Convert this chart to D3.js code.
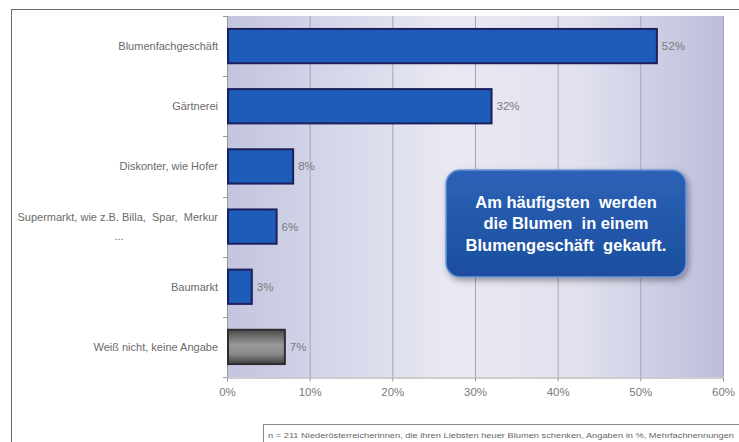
<!DOCTYPE html>
<html><head><meta charset="utf-8">
<script src="https://cdn.jsdelivr.net/npm/d3@7"></script>
<style>body{margin:0;background:#fff;}svg{display:block;font-family:Arial,"Liberation Sans",sans-serif;}</style>
</head><body>
<svg id="c" width="739" height="442"></svg>
<script>
const categories = ["Blumenfachgeschäft","Gärtnerei","Diskonter, wie Hofer","Supermarkt, wie z.B. Billa,  Spar,  Merkur|...","Baumarkt","Weiß nicht, keine Angabe"];
const values = [52, 32, 8, 6, 3, 7];
const highlightGray = [false,false,false,false,false,true];
const xTicks = [0,10,20,30,40,50,60];
const calloutLines = ["Am häufigsten  werden","die Blumen  in einem","Blumengeschäft  gekauft."];
const footnote = "n = 211 Niederösterreicherinnen, die ihren Liebsten heuer Blumen schenken, Angaben in %, Mehrfachnennungen";

const svg = d3.select("#c");
const defs = svg.append("defs");
const bg = defs.append("linearGradient").attr("id","bg").attr("x1","0").attr("x2","1").attr("y1","0").attr("y2","0");
bg.append("stop").attr("offset","0").attr("stop-color","#c3c5df");
bg.append("stop").attr("offset","0.45").attr("stop-color","#e9e9f3");
bg.append("stop").attr("offset","0.7").attr("stop-color","#e2e2ef");
bg.append("stop").attr("offset","1").attr("stop-color","#bcbddb");
const gg = defs.append("linearGradient").attr("id","gray").attr("x1","0").attr("x2","0").attr("y1","0").attr("y2","1");
gg.append("stop").attr("offset","0").attr("stop-color","#4a4a4a");
gg.append("stop").attr("offset","0.45").attr("stop-color","#9a9a9a");
gg.append("stop").attr("offset","0.7").attr("stop-color","#8a8a8a");
gg.append("stop").attr("offset","1").attr("stop-color","#3e3e3e");
const cg = defs.append("linearGradient").attr("id","call").attr("x1","0").attr("x2","0").attr("y1","0").attr("y2","1");
cg.append("stop").attr("offset","0").attr("stop-color","#2d62b6");
cg.append("stop").attr("offset","1").attr("stop-color","#1a4e9e");
const sh = defs.append("filter").attr("id","sh").attr("x","-10%").attr("y","-10%").attr("width","130%").attr("height","140%");
sh.append("feGaussianBlur").attr("in","SourceAlpha").attr("stdDeviation","3");
sh.append("feOffset").attr("dx","2").attr("dy","3").attr("result","b");
sh.append("feComponentTransfer").append("feFuncA").attr("type","linear").attr("slope","0.35");
const m = sh.append("feMerge"); m.append("feMergeNode"); m.append("feMergeNode").attr("in","SourceGraphic");

// outer frame
svg.append("rect").attr("x",11.5).attr("y",9.5).attr("width",740).attr("height",440)
  .attr("fill","none").attr("stroke","#6a6a6a").attr("stroke-width",1);

const x = d3.scaleLinear().domain([0,60]).range([227,723]);
const y = d3.scaleBand().domain(categories).range([16,377]).paddingInner(0.43).paddingOuter(0.215);

// plot bg
svg.append("rect").attr("x",x(0)).attr("y",16).attr("width",x(60)-x(0)).attr("height",377-16).attr("fill","url(#bg)");

// gridlines
svg.append("g").selectAll("line").data(xTicks.filter(t=>t>0)).join("line")
  .attr("x1",d=>x(d)+0.5).attr("x2",d=>x(d)+0.5).attr("y1",16).attr("y2",377)
  .attr("stroke","#a4a4bc").attr("stroke-width",1);

// x axis
const xa = svg.append("g").attr("transform","translate(0,377.5)")
  .call(d3.axisBottom(x).tickValues(xTicks).tickFormat(d=>d+"%").tickSize(4).tickPadding(6));
xa.select(".domain").attr("stroke","#9a9a9a");
xa.selectAll(".tick line").attr("stroke","#9a9a9a");
xa.selectAll("text").attr("fill","#7a7a7a").attr("font-size","11.5px").attr("font-family","Arial,'Liberation Sans',sans-serif");

// y axis line + ticks at category boundaries
svg.append("line").attr("x1",227.5).attr("x2",227.5).attr("y1",16).attr("y2",377).attr("stroke","#9a9a9a");
const bounds = d3.range(categories.length+1).map(i=>16 + i*(361/categories.length));
svg.append("g").selectAll("line").data(bounds).join("line")
  .attr("x1",223).attr("x2",227).attr("y1",d=>Math.round(d)+0.5).attr("y2",d=>Math.round(d)+0.5).attr("stroke","#9a9a9a");

// bars
svg.append("g").selectAll("rect").data(categories).join("rect")
  .attr("x",x(0)+1).attr("y",d=>y(d))
  .attr("width",(d,i)=>x(values[i])-x(0)-1).attr("height",y.bandwidth())
  .attr("fill",(d,i)=>highlightGray[i]?"url(#gray)":"#1e5cb9")
  .attr("stroke",(d,i)=>highlightGray[i]?"#2e2e2e":"#1d1f5c").attr("stroke-width",2);

// value labels
svg.append("g").selectAll("text").data(categories).join("text")
  .attr("x",(d,i)=>x(values[i])+5).attr("y",d=>y(d)+y.bandwidth()/2).attr("dy","0.35em")
  .attr("fill","#7a7a7a").attr("font-size","11.5px").text((d,i)=>values[i]+"%");

// category labels
const cl = svg.append("g");
categories.forEach(c=>{
  const parts = c.split("|");
  const cy = y(c)+y.bandwidth()/2;
  if(parts.length===1){
    cl.append("text").attr("x",218).attr("y",cy).attr("dy","0.35em").attr("text-anchor","end")
      .attr("fill","#6a6a6a").attr("font-size","11px").text(parts[0]);
  } else {
    cl.append("text").attr("x",218).attr("y",cy-9).attr("dy","0.35em").attr("text-anchor","end")
      .attr("fill","#6a6a6a").attr("font-size","11px").style("white-space","pre").text(parts[0]);
    cl.append("text").attr("x",119).attr("y",cy+10).attr("dy","0.35em").attr("text-anchor","middle")
      .attr("fill","#6a6a6a").attr("font-size","11px").text(parts[1]);
  }
});

// callout
const cb = svg.append("g");
cb.append("rect").attr("x",446).attr("y",170).attr("width",240).attr("height",107).attr("rx",14)
  .attr("fill","url(#call)").attr("stroke","#6d95d6").attr("stroke-width",1.5).attr("filter","url(#sh)");
cb.selectAll("text").data(calloutLines).join("text")
  .attr("x",566).attr("y",(d,i)=>202+i*21.5).attr("dy","0.35em").attr("text-anchor","middle")
  .attr("fill","#fff").attr("font-weight","bold").attr("font-size","16.5px")
  .style("white-space","pre").text(d=>d);

// footnote
svg.append("rect").attr("x",263.5).attr("y",424.5).attr("width",490).attr("height",30)
  .attr("fill","#fff").attr("stroke","#8a8a8a");
svg.append("text").attr("x",268).attr("y",435).attr("dy","0.35em").attr("fill","#666")
  .attr("font-size","8px").attr("textLength",466).attr("lengthAdjust","spacingAndGlyphs").text(footnote);
</script>
</body></html>
